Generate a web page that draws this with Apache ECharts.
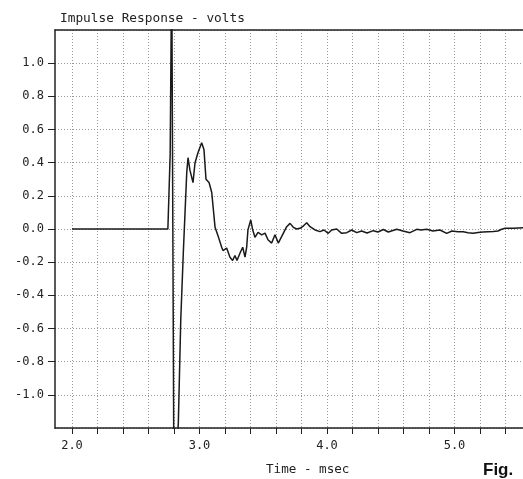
<!DOCTYPE html>
<html>
<head>
<meta charset="utf-8">
<script src="https://cdn.jsdelivr.net/npm/echarts@6/dist/echarts.min.js"></script>
<style>
  html, body { margin: 0; padding: 0; background: #fff; }
  #main { width: 523px; height: 479px; }
</style>
</head>
<body>
<div id="main"></div>
<script>
// time axis (msec) and response (volts)
const times = [
  2.000, 2.752, 2.770, 2.782, 2.792, 2.800, 2.815, 2.834, 2.853, 2.873,
  2.900, 2.910, 2.925, 2.949, 2.965, 2.988, 3.017, 3.035, 3.051, 3.075,
  3.096, 3.122, 3.145, 3.174, 3.184, 3.213, 3.239, 3.260, 3.278, 3.294,
  3.318, 3.339, 3.357, 3.370, 3.380, 3.402, 3.417, 3.435, 3.459, 3.488,
  3.514, 3.537, 3.566, 3.592, 3.618, 3.645, 3.684, 3.710, 3.736, 3.762,
  3.788, 3.814, 3.841, 3.867, 3.906, 3.945, 3.976, 4.010, 4.037, 4.076,
  4.115, 4.155, 4.194, 4.233, 4.272, 4.314, 4.363, 4.400, 4.442, 4.481,
  4.494, 4.547, 4.596, 4.651, 4.704, 4.737, 4.782, 4.831, 4.886, 4.939,
  4.980, 5.027, 5.069, 5.106, 5.147, 5.184, 5.224, 5.263, 5.304, 5.341,
  5.365, 5.396, 5.461, 5.540
]
const volts = [
  0.000, 0.000, 0.450, 1.600, 1.600, -1.600, -1.600, -1.170, -0.550, -0.145,
  0.340, 0.430, 0.355, 0.280, 0.400, 0.460, 0.520, 0.480, 0.300, 0.280,
  0.220, 0.010, -0.040, -0.110, -0.130, -0.115, -0.170, -0.190, -0.160, -0.190,
  -0.145, -0.110, -0.170, -0.110, -0.005, 0.055, -0.005, -0.050, -0.020, -0.035,
  -0.025, -0.065, -0.085, -0.035, -0.085, -0.045, 0.014, 0.034, 0.010, 0.000,
  0.004, 0.018, 0.038, 0.014, -0.006, -0.016, -0.006, -0.026, -0.006, 0.000,
  -0.026, -0.022, -0.006, -0.022, -0.012, -0.024, -0.010, -0.018, -0.003, -0.018,
  -0.026, -0.002, -0.012, -0.022, -0.002, -0.006, -0.002, -0.012, -0.006, -0.026,
  -0.012, -0.016, -0.016, -0.022, -0.026, -0.021, -0.018, -0.016, -0.015, -0.012,
  -0.003, 0.004, 0.004, 0.008
]
// tick marks every 0.2 ms, labels every 1 ms
const xTicks = [2.0, 2.2, 2.4, 2.6, 2.8, 3.0, 3.2, 3.4, 3.6, 3.8, 4.0, 4.2, 4.4, 4.6, 4.8, 5.0, 5.2, 5.4]
const xLabels = [2.0, 3.0, 4.0, 5.0]

const chart = echarts.init(document.getElementById('main'))
const mono = 'DejaVu Sans Mono'
const xMin = 1.8667
const xMax = 5.5373
const gridDots = { color: '#999', type: [1, 2], width: 1 }

const option = {
  backgroundColor: '#fff',
  animation: false,
  title: [
    {
      text: 'Impulse Response - volts',
      left: 60,
      top: 12,
      padding: 0,
      textStyle: { fontFamily: mono, fontSize: 12.8, fontWeight: 'normal', color: '#222' }
    },
    {
      text: 'Time - msec',
      left: 266,
      top: 463,
      padding: 0,
      textStyle: { fontFamily: mono, fontSize: 12.6, fontWeight: 'normal', color: '#222' }
    },
    {
      text: 'Fig.',
      left: 483,
      top: 462,
      padding: 0,
      textStyle: { fontFamily: 'Liberation Sans', fontSize: 17, fontWeight: 'bold', color: '#111' }
    }
  ],
  grid: {
    left: 55,
    top: 30,
    right: 0,
    height: 398
  },
  xAxis: [
    {
      type: 'value',
      position: 'bottom',
      min: xMin,
      max: xMax,
      axisLine: { onZero: false, lineStyle: { color: '#222', width: 1.5 } },
      axisTick: { customValues: xTicks, length: 6, lineStyle: { color: '#222' } },
      axisLabel: {
        customValues: xLabels,
        margin: 12,
        fontFamily: mono,
        fontSize: 12,
        color: '#222',
        formatter: (v) => v.toFixed(1)
      },
      splitLine: { show: true, lineStyle: gridDots }
    },
    {
      // top frame line only
      type: 'value',
      position: 'top',
      min: xMin,
      max: xMax,
      axisLine: { onZero: false, lineStyle: { color: '#222', width: 1.5 } },
      axisTick: { show: false },
      axisLabel: { show: false },
      splitLine: { show: false }
    }
  ],
  yAxis: {
    type: 'value',
    min: -1.2,
    max: 1.2,
    interval: 0.2,
    axisLine: { show: true, onZero: false, lineStyle: { color: '#222', width: 1.5 } },
    axisTick: { show: true, length: 7, lineStyle: { color: '#222' } },
    axisLabel: {
      showMinLabel: false,
      showMaxLabel: false,
      margin: 11,
      fontFamily: mono,
      fontSize: 12,
      color: '#222',
      formatter: (v) => v.toFixed(1)
    },
    splitLine: { show: true, lineStyle: gridDots }
  },
  series: [
    {
      type: 'line',
      xAxisIndex: 0,
      data: times.map((t, i) => [t, volts[i]]),
      showSymbol: false,
      clip: true,
      lineStyle: { color: '#1a1a1a', width: 1.5 }
    }
  ]
}

chart.setOption(option)
</script>
</body>
</html>
